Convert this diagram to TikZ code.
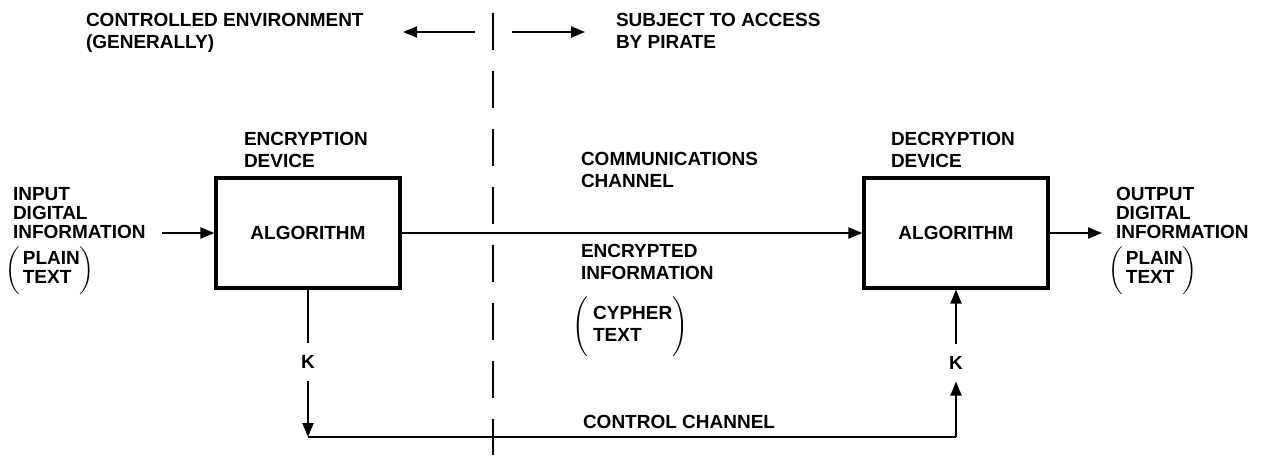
\documentclass[tikz,border=0pt]{standalone}
\usepackage{fontspec}
\setmainfont{Liberation Sans}
\usetikzlibrary{arrows.meta}

\begin{document}
\begin{tikzpicture}[x=0.5pt,y=-0.5pt,line width=1pt,
    lbl/.style={font=\bfseries\fontsize{9.5}{11}\selectfont,align=left,inner sep=0pt,anchor=north west},
    side/.style={font=\bfseries\fontsize{9.5}{9.5}\selectfont,align=left,inner sep=0pt,anchor=north west},
    paren/.style={font=\bfseries\fontsize{9.5}{#1}\selectfont,inner sep=0pt,anchor=west},
    box/.style={draw,line width=1.6pt,minimum width=92pt,minimum height=55pt,font=\bfseries\fontsize{9.5}{11}\selectfont},
    key/.style={font=\bfseries\fontsize{9.5}{11}\selectfont,inner sep=5.5pt},
    arr/.style={-{Triangle[length=7pt,width=5.5pt]}}]
    \useasboundingbox (0,0) rectangle (1261,455);

    % the two sides of the boundary
    \node[lbl] (ctl) at (85,12) {CONTROLLED ENVIRONMENT\\(GENERALLY)};
    \node[lbl] (pir) at (615,12) {SUBJECT TO ACCESS\\BY PIRATE};
    \coordinate (envL) at (403,32);
    \coordinate (envR) at (475,32);
    \coordinate (pirL) at (512,32);
    \coordinate (pirR) at (585,32);
    \coordinate (dtop) at (493,13);
    \coordinate (dbot) at (493,455);
    \draw[arr] (envR) -- (envL);
    \draw[arr] (pirL) -- (pirR);
    \draw[dash pattern=on 18.5pt off 10.5pt] (dtop) -- (dbot);

    % devices
    \node[box] (enc) at (308,233) {ALGORITHM};
    \node[box] (dec) at (956,233) {ALGORITHM};
    \node[lbl] (encl) at (243,131) {ENCRYPTION\\DEVICE};
    \node[lbl] (decl) at (890,131) {DECRYPTION\\DEVICE};

    % input and output
    \node[side] (intxt) at (12,186) {INPUT\\DIGITAL\\INFORMATION};
    \node[paren=9.5] (inpt) at (4,270) {$\biggl(\mbox{\,\begin{tabular}{@{}l@{}}PLAIN\\TEXT\end{tabular}}\biggr)$};
    \node[side] (outtxt) at (1115,186) {OUTPUT\\DIGITAL\\INFORMATION};
    \node[paren=9.5] (outpt) at (1107,270) {$\biggl(\mbox{\,\begin{tabular}{@{}l@{}}PLAIN\\TEXT\end{tabular}}\biggr)$};
    \coordinate (inA) at (162,233);
    \coordinate (outA) at (1102,233);

    % channel
    \node[lbl] (comm) at (580,151) {COMMUNICATIONS\\CHANNEL};
    \node[lbl] (enci) at (580,243) {ENCRYPTED\\INFORMATION};
    \node[paren=11] (cyph) at (571,326) {$\Biggl(\mbox{\;\begin{tabular}{@{}l@{}}CYPHER\\TEXT\end{tabular}}\Biggr)$};
    \draw[arr] (inA) -- (enc.west);
    \draw[arr] (enc.east) -- (dec.west);
    \draw[arr] (dec.east) -- (outA);

    % key and control channel
    \node[key] (kl) at (308,362) {K};
    \node[key] (kr) at (956,363) {K};
    \node[lbl] (ctrl) at (582,414) {CONTROL CHANNEL};
    \coordinate (cl) at (308,437);
    \coordinate (cr) at (956,437);
    \draw (enc.south) -- (kl.north);
    \draw[arr] (kl.south) -- (cl);
    \draw (cl) -- (cr);
    \draw[arr] (cr) -- (kr.south);
    \draw[arr] (kr.north) -- (dec.south);
\end{tikzpicture}
\end{document}
